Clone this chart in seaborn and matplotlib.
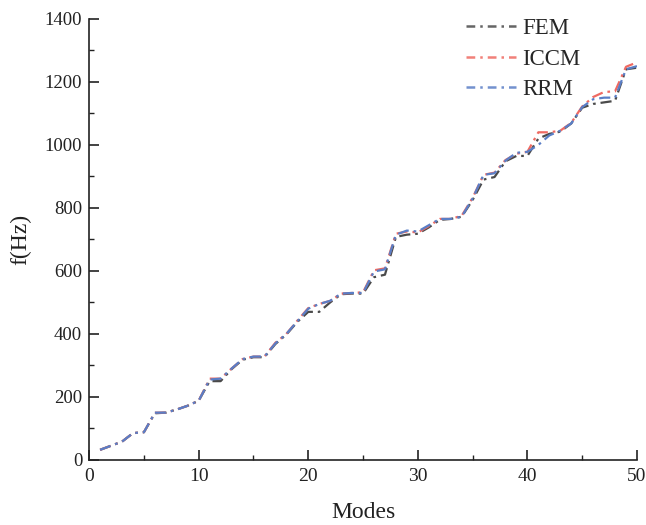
import numpy as np
import pandas as pd
import matplotlib
matplotlib.use("Agg")
import matplotlib.pyplot as plt
import seaborn as sns
from matplotlib.ticker import MultipleLocator

modes = list(range(1, 51))
fem = [32, 45, 58, 85, 88, 148, 150, 160, 172, 188,
       250, 250, 288, 318, 326, 326, 368, 398, 438, 470,
       470, 500, 526, 528, 528, 580, 588, 708, 715, 718,
       738, 762, 765, 772, 825, 890, 898, 948, 965, 965,
       1020, 1035, 1042, 1068, 1118, 1130, 1135, 1140, 1240, 1245]
iccm = [32, 45, 58, 85, 88, 150, 150, 160, 172, 188,
        258, 258, 290, 320, 328, 328, 372, 400, 442, 482,
        495, 505, 528, 530, 532, 602, 608, 718, 725, 722,
        742, 765, 765, 775, 832, 905, 912, 952, 972, 978,
        1040, 1040, 1045, 1070, 1122, 1152, 1168, 1170, 1248, 1262]
rrm = [32, 45, 58, 85, 88, 150, 150, 160, 172, 188,
       255, 258, 290, 320, 328, 328, 370, 400, 440, 480,
       495, 505, 528, 530, 530, 598, 605, 715, 728, 725,
       745, 765, 765, 772, 830, 905, 910, 950, 975, 978,
       1000, 1030, 1045, 1068, 1120, 1145, 1150, 1150, 1240, 1250]

df = pd.DataFrame({"Modes": modes * 3,
                   "f": fem + iccm + rrm,
                   "Method": ["FEM"] * 50 + ["ICCM"] * 50 + ["RRM"] * 50})

sns.set_style("ticks")
plt.rcParams['font.family'] = ['Liberation Serif', 'DejaVu Serif']

fig = plt.figure(figsize=(6.46, 5.25), dpi=100)
ax = fig.add_axes([0.138, 0.124, 0.848, 0.840])
palette = {"FEM": "#4a4a4a", "ICCM": "#ef6a62", "RRM": "#5a7ec6"}
dash = (0, (5, 2.2, 1.2, 2.2))
sns.lineplot(data=df, x="Modes", y="f", hue="Method", palette=palette,
             ax=ax, linewidth=1.6, legend=True)
for line in ax.lines:
    line.set_linestyle(dash)

ax.set_xlim(0, 50)
ax.set_ylim(0, 1400)
ax.xaxis.set_major_locator(MultipleLocator(10))
ax.xaxis.set_minor_locator(MultipleLocator(5))
ax.yaxis.set_major_locator(MultipleLocator(200))
ax.yaxis.set_minor_locator(MultipleLocator(100))
ax.tick_params(which='major', direction='in', length=7, width=1.2, colors='#222222')
ax.tick_params(which='minor', direction='in', length=3.5, width=1.0, colors='#222222')
ax.tick_params(axis='x', which='major', labelsize=14, pad=6)
ax.tick_params(axis='y', which='major', labelsize=13.5, pad=5)
for s in ['top', 'right']:
    ax.spines[s].set_visible(False)
for s in ['left', 'bottom']:
    ax.spines[s].set_linewidth(1.2)
    ax.spines[s].set_color('#222222')
ax.set_xlabel("Modes", fontsize=17, labelpad=12, color='#222222')
ax.set_ylabel("f(Hz)", fontsize=17, labelpad=10, color='#222222')

leg = ax.legend(loc='upper right', bbox_to_anchor=(0.898, 0.965),
                bbox_transform=fig.transFigure, frameon=False,
                fontsize=16.5, handlelength=2.2, handletextpad=0.25,
                labelspacing=0.4, borderpad=0, borderaxespad=0)
for h in leg.get_lines():
    h.set_linestyle((0, (3.5, 2.0, 1.0, 2.0)))
    h.set_linewidth(1.8)
    h.set_alpha(0.85)

fig.savefig("out.png", dpi=100)
